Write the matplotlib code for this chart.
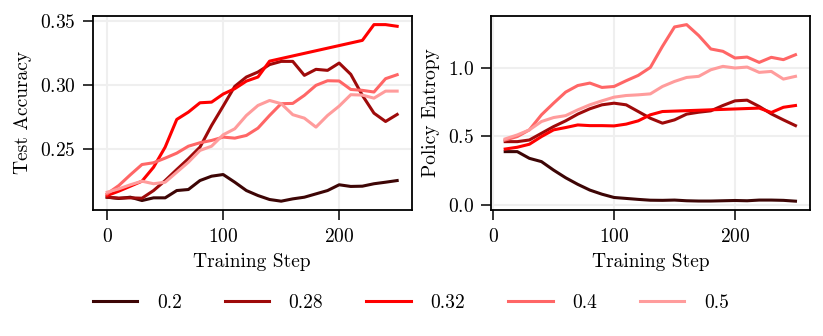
import matplotlib.pyplot as plt

plt.rcParams["font.family"] = "serif"
plt.rcParams["font.serif"] = ["cmr10", "DejaVu Serif"]
plt.rcParams["mathtext.fontset"] = "cm"
plt.rcParams["axes.formatter.use_mathtext"] = True

# Данные: значения
labels = ["0.2", "0.28", "0.32", "0.4", "0.5"]
colors = ["#3d0505", "#9e0a0a", "#ff0000", "#ff6666", "#ff9c9c"]

steps_acc = list(range(0, 251, 10))
steps_acc_red = list(range(0, 141, 10)) + [220, 230, 240, 250]
acc_02 = [0.2125, 0.2115, 0.2125, 0.2099, 0.2120, 0.2120, 0.2177, 0.2185, 0.2255,
          0.2289, 0.2302, 0.2242, 0.2177, 0.2138, 0.2107, 0.2094, 0.2112, 0.2125,
          0.2151, 0.2177, 0.2222, 0.2209, 0.2211, 0.2230, 0.2242, 0.2255]
acc_028 = [0.2125, 0.2118, 0.2120, 0.2117, 0.2177, 0.2255, 0.2341, 0.2425, 0.2516,
           0.2685, 0.2836, 0.2990, 0.3063, 0.3102, 0.3160, 0.3185, 0.3185, 0.3076,
           0.3123, 0.3115, 0.3172, 0.3084, 0.2920, 0.2781, 0.2716, 0.2771]
acc_032 = [0.2138, 0.2172, 0.2211, 0.2250, 0.2359, 0.2516, 0.2732, 0.2789, 0.2862,
           0.2867, 0.2930, 0.2972, 0.3031, 0.3063, 0.3187, 0.3349, 0.3472, 0.3472,
           0.3459]
acc_04 = [0.2152, 0.2216, 0.2300, 0.2380, 0.2394, 0.2430, 0.2469, 0.2523, 0.2550,
          0.2568, 0.2594, 0.2586, 0.2607, 0.2664, 0.2763, 0.2855, 0.2857, 0.2920,
          0.2998, 0.3034, 0.3032, 0.2966, 0.2959, 0.2946, 0.3050, 0.3081]
acc_05 = [0.2164, 0.2190, 0.2222, 0.2250, 0.2230, 0.2242, 0.2320, 0.2398, 0.2490,
          0.2523, 0.2612, 0.2659, 0.2763, 0.2841, 0.2880, 0.2855, 0.2769, 0.2742,
          0.2672, 0.2763, 0.2836, 0.2925, 0.2922, 0.2898, 0.2953, 0.2953]

steps_ent = list(range(10, 251, 10))
steps_ent_red = list(range(10, 141, 10)) + [220, 230, 240, 250]
ent_02 = [0.389, 0.389, 0.340, 0.316, 0.254, 0.198, 0.150, 0.108, 0.078, 0.054,
          0.047, 0.040, 0.034, 0.033, 0.035, 0.030, 0.028, 0.028, 0.030, 0.032,
          0.030, 0.035, 0.035, 0.033, 0.027]
ent_028 = [0.462, 0.462, 0.474, 0.523, 0.572, 0.614, 0.663, 0.702, 0.731, 0.743,
           0.731, 0.682, 0.633, 0.597, 0.621, 0.663, 0.677, 0.687, 0.726, 0.760,
           0.765, 0.719, 0.665, 0.621, 0.579]
ent_032 = [0.408, 0.421, 0.443, 0.499, 0.548, 0.565, 0.584, 0.579, 0.579, 0.577,
           0.590, 0.614, 0.658, 0.682, 0.707, 0.675, 0.713, 0.726]
ent_04 = [0.474, 0.499, 0.548, 0.658, 0.743, 0.824, 0.872, 0.890, 0.858, 0.865,
          0.907, 0.946, 1.004, 1.158, 1.300, 1.317, 1.237, 1.139, 1.122, 1.073,
          1.080, 1.041, 1.078, 1.061, 1.097]
ent_05 = [0.482, 0.511, 0.548, 0.609, 0.638, 0.652, 0.694, 0.731, 0.760, 0.787,
          0.799, 0.804, 0.811, 0.865, 0.902, 0.931, 0.939, 0.987, 1.012, 1.000,
          1.007, 0.968, 0.975, 0.919, 0.939]

acc_series = [(steps_acc, acc_02), (steps_acc, acc_028), (steps_acc_red, acc_032),
              (steps_acc, acc_04), (steps_acc, acc_05)]
ent_series = [(steps_ent, ent_02), (steps_ent, ent_028), (steps_ent_red, ent_032),
              (steps_ent, ent_04), (steps_ent, ent_05)]

fig = plt.figure(figsize=(8.23, 3.36), dpi=100)
ax1 = fig.add_axes([0.1126, 0.375, 0.3876, 0.578])
ax2 = fig.add_axes([0.5962, 0.375, 0.3880, 0.578])

for ax, series, ylabel in [(ax1, acc_series, "Test Accuracy"),
                           (ax2, ent_series, "Policy Entropy")]:
    for (xs, ys), c, lab in zip(series, colors, labels):
        ax.plot(xs, ys, color=c, lw=2.2, label=lab)
    ax.grid(True, color="#efefef", lw=1.5)
    ax.set_axisbelow(True)
    for s in ax.spines.values():
        s.set_linewidth(1.3)
    ax.tick_params(labelsize=14, width=1.1, length=7, pad=5)
    ax.tick_params(axis="x", pad=6)
    ax.set_xlabel("Training Step", fontsize=14, labelpad=5)
    ax.set_ylabel(ylabel, fontsize=14, labelpad=6)

ax1.set_xticks([0, 100, 200])
ax1.set_yticks([0.25, 0.30, 0.35])
ax2.set_xticks([0, 100, 200])
ax2.set_yticks([0.0, 0.5, 1.0])

handles, labs = ax1.get_legend_handles_labels()
fig.legend(handles, labs, loc="center", bbox_to_anchor=(0.499, 0.099), ncol=5,
           frameon=False, fontsize=14, handlelength=2.3, handletextpad=1.0,
           columnspacing=2.2)

fig.savefig("out.png", dpi=100)
